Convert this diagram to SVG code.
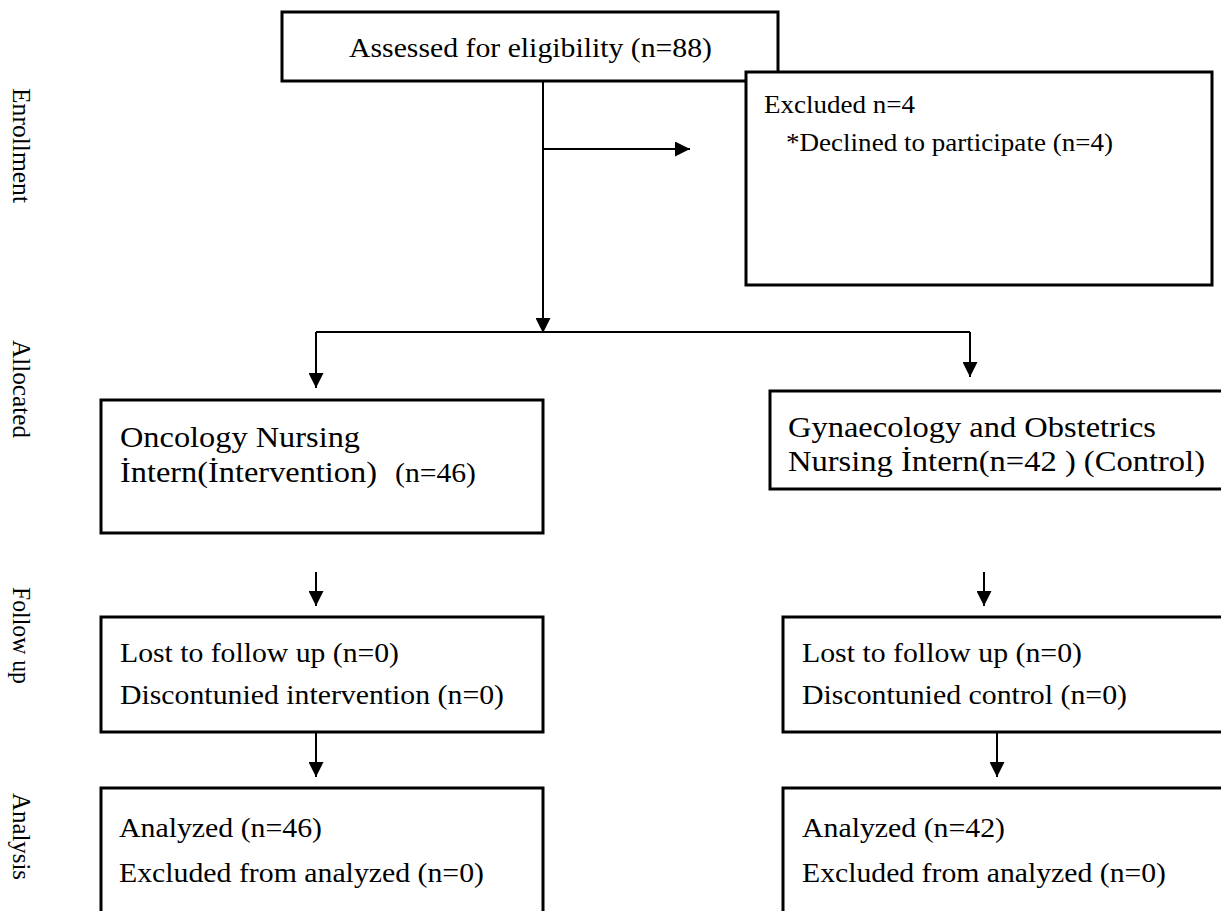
<svg xmlns="http://www.w3.org/2000/svg" width="1221" height="911" viewBox="0 0 1221 911">
<style>
  .box { fill: #ffffff; stroke: #000000; stroke-width: 3; }
  .t { font-family: "Liberation Serif", "Times New Roman", serif; fill: #000000; }
  .s26 { font-size: 27.5px; }
  .s24 { font-size: 25.5px; }
  .s28 { font-size: 29.5px; }
  .side { font-family: "Liberation Serif", "Times New Roman", serif; font-size: 26px; fill: #000000; }
  .conn { fill: none; stroke: #000000; stroke-width: 2; }
</style>
<defs>
  <marker id="arr" markerUnits="userSpaceOnUse" viewBox="0 0 15 15" refX="15" refY="7.5" markerWidth="15" markerHeight="15" orient="auto">
    <path d="M0,0 L15,7.5 L0,15 z" fill="#000000"/>
  </marker>
</defs>
<rect x="0" y="0" width="1221" height="911" fill="#ffffff"/>

<g id="side-labels">
  <text class="side" transform="translate(13,88) rotate(90)" textLength="115" lengthAdjust="spacingAndGlyphs">Enrollment</text>
  <text class="side" transform="translate(13,340) rotate(90)" textLength="98" lengthAdjust="spacingAndGlyphs">Allocated</text>
  <text class="side" transform="translate(13,587) rotate(90)" textLength="97" lengthAdjust="spacingAndGlyphs">Follow up</text>
  <text class="side" transform="translate(13,793) rotate(90)" textLength="87" lengthAdjust="spacingAndGlyphs">Analysis</text>
</g>

<g id="connectors">
  <path class="conn" d="M543,81 V333" marker-end="url(#arr)"/>
  <path class="conn" d="M543,149 H690" marker-end="url(#arr)"/>
  <path class="conn" d="M316,332 H970"/>
  <path class="conn" d="M316,332 V388" marker-end="url(#arr)"/>
  <path class="conn" d="M970,332 V377" marker-end="url(#arr)"/>
  <path class="conn" d="M316,572 V606" marker-end="url(#arr)"/>
  <path class="conn" d="M984,572 V606" marker-end="url(#arr)"/>
  <path class="conn" d="M316,732 V777" marker-end="url(#arr)"/>
  <path class="conn" d="M997,732 V777" marker-end="url(#arr)"/>
</g>

<g id="assessed">
  <rect class="box" x="282" y="12" width="496" height="69"/>
  <text class="t s26" x="349" y="57" textLength="363" lengthAdjust="spacingAndGlyphs">Assessed for eligibility (n=88)</text>
</g>

<g id="excluded">
  <rect class="box" x="746" y="72" width="466" height="213"/>
  <text class="t s24" x="764" y="113" textLength="151" lengthAdjust="spacingAndGlyphs">Excluded n=4</text>
  <text class="t s24" x="786" y="151" textLength="327" lengthAdjust="spacingAndGlyphs">*Declined to participate (n=4)</text>
</g>

<g id="oncology">
  <rect class="box" x="101" y="400" width="442" height="133"/>
  <text class="t s28" x="120" y="447" textLength="240" lengthAdjust="spacingAndGlyphs">Oncology Nursing</text>
  <text class="t s28" x="120" y="482" textLength="257" lengthAdjust="spacingAndGlyphs">İntern(İntervention)</text>
  <text class="t s26" x="395" y="482" textLength="81" lengthAdjust="spacingAndGlyphs">(n=46)</text>
</g>

<g id="gynaecology">
  <rect class="box" x="770" y="391" width="470" height="98"/>
  <text class="t s28" x="788" y="437" textLength="368" lengthAdjust="spacingAndGlyphs">Gynaecology and Obstetrics</text>
  <text class="t s28" x="788" y="471" textLength="417" lengthAdjust="spacingAndGlyphs">Nursing İntern(n=42 ) (Control)</text>
</g>

<g id="followup-intervention">
  <rect class="box" x="101" y="617" width="442" height="115"/>
  <text class="t s26" x="120" y="662" textLength="279" lengthAdjust="spacingAndGlyphs">Lost to follow up (n=0)</text>
  <text class="t s26" x="120" y="704" textLength="384" lengthAdjust="spacingAndGlyphs">Discontunied intervention (n=0)</text>
</g>

<g id="followup-control">
  <rect class="box" x="783" y="617" width="460" height="115"/>
  <text class="t s26" x="802" y="662" textLength="280" lengthAdjust="spacingAndGlyphs">Lost to follow up (n=0)</text>
  <text class="t s26" x="802" y="704" textLength="325" lengthAdjust="spacingAndGlyphs">Discontunied control (n=0)</text>
</g>

<g id="analysis-intervention">
  <rect class="box" x="101" y="788" width="442" height="140"/>
  <text class="t s26" x="119" y="837" textLength="203" lengthAdjust="spacingAndGlyphs">Analyzed (n=46)</text>
  <text class="t s26" x="119" y="882" textLength="365" lengthAdjust="spacingAndGlyphs">Excluded from analyzed (n=0)</text>
</g>

<g id="analysis-control">
  <rect class="box" x="783" y="788" width="460" height="140"/>
  <text class="t s26" x="802" y="837" textLength="203" lengthAdjust="spacingAndGlyphs">Analyzed (n=42)</text>
  <text class="t s26" x="802" y="882" textLength="364" lengthAdjust="spacingAndGlyphs">Excluded from analyzed (n=0)</text>
</g>
</svg>
